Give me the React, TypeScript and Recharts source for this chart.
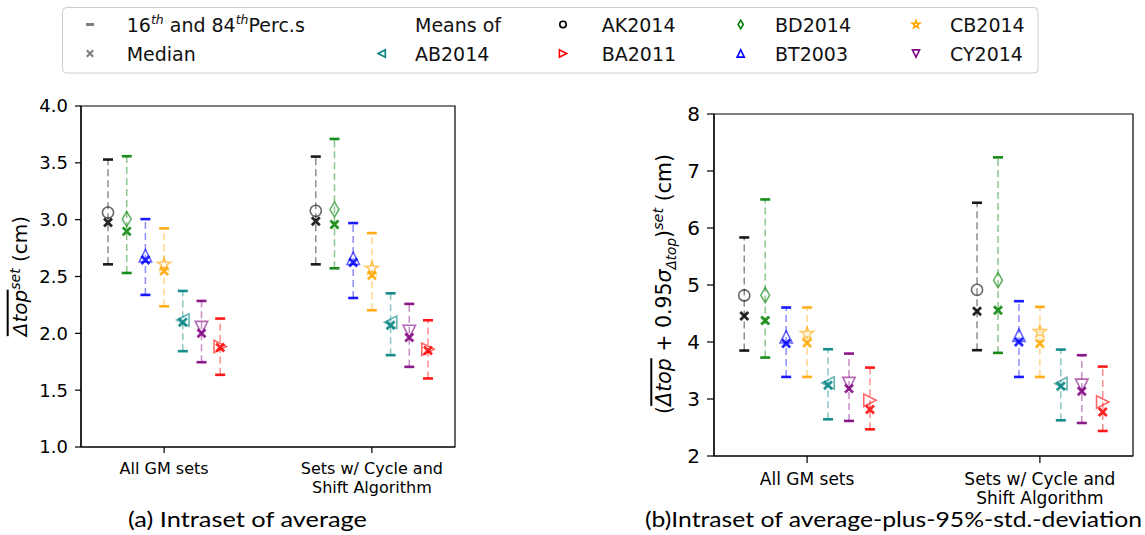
import React from 'react';
import { ComposedChart, Scatter, XAxis, YAxis, ErrorBar, ReferenceArea } from 'recharts';

// ---------- data ----------
const categories = ['All GM sets', 'Sets w/ Cycle and\nShift Algorithm'];
const categoryIndex = [0, 1];
const seriesNames = ['AK2014', 'BD2014', 'BT2003', 'CB2014', 'AB2014', 'CY2014', 'BA2011'];
const seriesColors = ['#000000', '#008000', '#0000ff', '#ffa500', '#008080', '#800080', '#ff0000'];
const seriesMarkers = ['circle', 'thinDiamond', 'triUp', 'star', 'triLeft', 'triDown', 'triRight'];
const seriesSlots = [-3, -2, -1, 0, 1, 2, 3];
const groupStep = 0.09;

// (a) Intraset of average  [All GM sets, Sets w/ Cycle and Shift]
const avgMean = [[3.063, 3.078], [3.005, 3.09], [2.683, 2.66], [2.607, 2.572], [2.118, 2.098], [2.051, 2.016], [1.884, 1.86]];
const avgMedian = [[2.976, 2.987], [2.897, 2.958], [2.645, 2.624], [2.548, 2.51], [2.098, 2.071], [2.001, 1.963], [1.875, 1.849]];
const avgP16 = [[2.607, 2.607], [2.531, 2.572], [2.338, 2.311], [2.238, 2.203], [1.843, 1.808], [1.746, 1.705], [1.635, 1.603]];
const avgP84 = [[3.529, 3.555], [3.558, 3.71], [3.005, 2.97], [2.923, 2.882], [2.373, 2.352], [2.285, 2.259], [2.13, 2.115]];

// (b) Intraset of average-plus-95%-std.-deviation
const stdMean = [[4.816, 4.915], [4.821, 5.085], [4.09, 4.12], [4.148, 4.18], [3.28, 3.27], [3.27, 3.24], [2.977, 2.948]];
const stdMedian = [[4.458, 4.54], [4.377, 4.558], [3.973, 4.002], [3.984, 3.973], [3.241, 3.223], [3.182, 3.136], [2.814, 2.773]];
const stdP16 = [[3.85, 3.856], [3.727, 3.809], [3.387, 3.387], [3.387, 3.387], [2.644, 2.626], [2.615, 2.579], [2.468, 2.439]];
const stdP84 = [[5.834, 6.443], [6.501, 7.239], [4.605, 4.716], [4.605, 4.616], [3.873, 3.867], [3.797, 3.768], [3.551, 3.569]];

const avgTicks = [1.0, 1.5, 2.0, 2.5, 3.0, 3.5, 4.0];
const stdTicks = [2, 3, 4, 5, 6, 7, 8];

const legendRow1 = ['16th and 84thPerc.s', 'Means of', 'AK2014', 'BD2014', 'CB2014'];
const legendRow2 = ['Median', 'AB2014', 'BA2011', 'BT2003', 'CY2014'];

const FONT = '"DejaVu Sans", sans-serif';

function buildSeries(mean: number[][], median: number[][], p16: number[][], p84: number[][]) {
  return seriesNames.map((name, s) =>
    categoryIndex.map((c, i) => ({
      x: c + seriesSlots[s] * groupStep,
      mean: mean[s][i],
      median: median[s][i],
      lo: p16[s][i],
      hi: p84[s][i],
      err: [median[s][i] - p16[s][i], p84[s][i] - median[s][i]],
    }))
  );
}

const avgSeries = buildSeries(avgMean, avgMedian, avgP16, avgP84);
const stdSeries = buildSeries(stdMean, stdMedian, stdP16, stdP84);

// ---------- marker shapes ----------
function starPath(cx: number, cy: number, r: number) {
  const ri = r * 0.382;
  let d = '';
  for (let k = 0; k < 10; k++) {
    const rr = k % 2 === 0 ? r : ri;
    const a = -Math.PI / 2 + (k * Math.PI) / 5;
    d += (k === 0 ? 'M' : 'L') + (cx + rr * Math.cos(a)).toFixed(2) + ',' + (cy + rr * Math.sin(a)).toFixed(2);
  }
  return d + 'Z';
}

function markerPath(kind: string, cx: number, cy: number, r: number): string {
  switch (kind) {
    case 'triUp':
      return `M${cx},${cy - r}L${cx + r},${cy + r}L${cx - r},${cy + r}Z`;
    case 'triDown':
      return `M${cx},${cy + r}L${cx + r},${cy - r}L${cx - r},${cy - r}Z`;
    case 'triLeft':
      return `M${cx - r},${cy}L${cx + r},${cy - r}L${cx + r},${cy + r}Z`;
    case 'triRight':
      return `M${cx + r},${cy}L${cx - r},${cy - r}L${cx - r},${cy + r}Z`;
    case 'thinDiamond':
      return `M${cx},${cy - r * 1.2}L${cx + r * 0.72},${cy}L${cx},${cy + r * 1.2}L${cx - r * 0.72},${cy}Z`;
    case 'star':
      return starPath(cx, cy, r * 1.1);
    default:
      return '';
  }
}

function Marker({ kind, cx, cy, r, color, opacity, sw }: any) {
  if (cx == null || cy == null) return null;
  if (kind === 'circle') {
    return <circle cx={cx} cy={cy} r={r * 0.9} fill="none" stroke={color} strokeOpacity={opacity} strokeWidth={sw} />;
  }
  return (
    <path d={markerPath(kind, cx, cy, r)} fill="none" stroke={color} strokeOpacity={opacity} strokeWidth={sw} strokeLinejoin="miter" />
  );
}

function XMark({ cx, cy, h, color, opacity, sw }: any) {
  if (cx == null || cy == null) return null;
  return (
    <path
      d={`M${cx - h},${cy - h}L${cx + h},${cy + h}M${cx - h},${cy + h}L${cx + h},${cy - h}`}
      stroke={color}
      strokeOpacity={opacity}
      strokeWidth={sw}
      fill="none"
    />
  );
}

function Cap({ cx, cy, h, color, opacity, sw }: any) {
  if (cx == null || cy == null) return null;
  return <line x1={cx - h} x2={cx + h} y1={cy} y2={cy} stroke={color} strokeOpacity={opacity} strokeWidth={sw} />;
}

const nothing = () => <g />;

// ---------- axis ticks ----------
function CatTick(props: any) {
  const { x, y, payload, fontSize, first, lineH } = props;
  const lines = categories[payload.value].split('\n');
  return (
    <text x={x} y={y} textAnchor="middle" fontSize={fontSize} fill="#000" fontFamily={FONT}>
      {lines.map((l: string, i: number) => (
        <tspan key={i} x={x} dy={i === 0 ? first : lineH}>
          {l}
        </tspan>
      ))}
    </text>
  );
}

function Panel(props: any) {
  const { width, height, margin, yAxisWidth, xAxisHeight, yDomain, yTicks, yFmt, series, fontSize, yFontSize, tickSize, tickMargin, first, lineH } = props;
  return (
    <ComposedChart width={width} height={height} margin={margin}>
      <XAxis
        type="number"
        dataKey="x"
        domain={[-0.4, 1.4]}
        ticks={categoryIndex}
        interval={0}
        allowDataOverflow
        height={xAxisHeight}
        stroke="#000"
        tickSize={tickSize}
        tickLine={{ stroke: '#000', strokeWidth: 1.2 }}
        axisLine={{ stroke: '#000', strokeWidth: 1.2 }}
        tick={<CatTick fontSize={fontSize} first={first} lineH={lineH} />}
      />
      <YAxis
        type="number"
        domain={yDomain}
        ticks={yTicks}
        allowDataOverflow
        width={yAxisWidth}
        tickFormatter={yFmt}
        tickSize={tickSize}
        tickMargin={tickMargin}
        stroke="#000"
        tickLine={{ stroke: '#000', strokeWidth: 1.2 }}
        axisLine={{ stroke: '#000', strokeWidth: 1.2 }}
        tick={{ fill: '#000', fontSize: yFontSize, fontFamily: FONT }}
      />
      <ReferenceArea x1={-0.4} x2={1.4} y1={yDomain[0]} y2={yDomain[1]} fill="none" stroke="#000" strokeWidth={1.2} fillOpacity={0} />
      {series.map((data: any[], s: number) => (
        <Scatter key={'e' + s} data={data} dataKey="median" shape={nothing} isAnimationActive={false}>
          <ErrorBar
            dataKey="err"
            direction="y"
            width={0}
            stroke={seriesColors[s]}
            strokeOpacity={0.45}
            strokeWidth={1.5}
            strokeDasharray="7 4"
            isAnimationActive={false}
          />
        </Scatter>
      ))}
      {series.map((data: any[], s: number) => (
        <Scatter
          key={'l' + s}
          data={data}
          dataKey="lo"
          isAnimationActive={false}
          shape={(p: any) => <Cap cx={p.cx} cy={p.cy} h={5} color={seriesColors[s]} opacity={0.9} sw={2.6} />}
        />
      ))}
      {series.map((data: any[], s: number) => (
        <Scatter
          key={'h' + s}
          data={data}
          dataKey="hi"
          isAnimationActive={false}
          shape={(p: any) => <Cap cx={p.cx} cy={p.cy} h={5} color={seriesColors[s]} opacity={0.9} sw={2.6} />}
        />
      ))}
      {series.map((data: any[], s: number) => (
        <Scatter
          key={'m' + s}
          data={data}
          dataKey="mean"
          isAnimationActive={false}
          shape={(p: any) => <Marker kind={seriesMarkers[s]} cx={p.cx} cy={p.cy} r={6.2} color={seriesColors[s]} opacity={0.6} sw={1.6} />}
        />
      ))}
      {series.map((data: any[], s: number) => (
        <Scatter
          key={'x' + s}
          data={data}
          dataKey="median"
          isAnimationActive={false}
          shape={(p: any) => <XMark cx={p.cx} cy={p.cy} h={4} color={seriesColors[s]} opacity={0.85} sw={2.8} />}
        />
      ))}
    </ComposedChart>
  );
}

// ---------- legend ----------
const legendCols = [90, 381.7, 563, 740.7, 916];
const legendTextX = [126.7, 415, 601.7, 775, 950];

function Legend() {
  const y1 = 24.5;
  const y2 = 53.5;
  const gray = '#000';
  const row1Series = [-1, -1, 0, 1, 3];
  const row2Series = [-2, 4, 6, 2, 5];
  const renderM = (sIdx: number, cx: number, cy: number) => {
    if (sIdx < 0) return null;
    return <Marker kind={seriesMarkers[sIdx]} cx={cx} cy={cy} r={3.6} color={seriesColors[sIdx]} opacity={1} sw={1.6} />;
  };
  return (
    <svg width={1145} height={80} style={{ position: 'absolute', left: 0, top: 0 }}>
      <rect x={62.5} y={7.5} width={975.5} height={65.5} rx={4} ry={4} fill="#fff" stroke="#cccccc" strokeWidth={1} />
      <Cap cx={legendCols[0]} cy={y1} h={4} color={gray} opacity={0.5} sw={3} />
      <XMark cx={legendCols[0]} cy={y2} h={3.2} color={gray} opacity={0.5} sw={2.2} />
      {row1Series.map((s, i) => (i >= 2 ? <g key={'r1m' + i}>{renderM(s, legendCols[i], y1)}</g> : null))}
      {row2Series.map((s, i) => (i >= 1 ? <g key={'r2m' + i}>{renderM(s, legendCols[i], y2)}</g> : null))}
      <text x={legendTextX[0]} y={31.5} fontFamily={FONT} fontSize={19} fill="#111">
        16<tspan fontSize={12.5} fontStyle="italic" dy={-7.5}>th</tspan>
        <tspan dy={7.5}> and 84</tspan>
        <tspan fontSize={12.5} fontStyle="italic" dy={-7.5}>th</tspan>
        <tspan dy={7.5}>Perc.s</tspan>
      </text>
      {legendRow1.slice(1).map((t, i) => (
        <text key={'t1' + i} x={legendTextX[i + 1]} y={31.5} fontFamily={FONT} fontSize={19} fill="#111">
          {t}
        </text>
      ))}
      {legendRow2.map((t, i) => (
        <text key={'t2' + i} x={legendTextX[i]} y={61} fontFamily={FONT} fontSize={19} fill="#111">
          {t}
        </text>
      ))}
    </svg>
  );
}

export default function App() {
  return (
    <div style={{ position: 'absolute', left: 0, top: 0, width: 1145, height: 535, background: '#fff', overflow: 'hidden' }}>
      <Legend />
      <div style={{ position: 'absolute', left: 0, top: 90 }}>
        <Panel
          width={470}
          height={420}
          margin={{ top: 16, right: 15, left: 0, bottom: 3 }}
          yAxisWidth={81}
          xAxisHeight={60}
          yDomain={[1, 4]}
          yTicks={avgTicks}
          yFmt={(v: number) => v.toFixed(1)}
          series={avgSeries}
          fontSize={16}
          yFontSize={18}
          tickSize={6}
          tickMargin={7}
          first={18.7}
          lineH={19.3}
        />
      </div>
      <div style={{ position: 'absolute', left: 640, top: 90 }}>
        <Panel
          width={505}
          height={420}
          margin={{ top: 24, right: 12, left: 0, bottom: 3 }}
          yAxisWidth={74}
          xAxisHeight={51}
          yDomain={[2, 8]}
          yTicks={stdTicks}
          yFmt={(v: number) => String(v)}
          series={stdSeries}
          fontSize={17}
          yFontSize={20}
          tickSize={7}
          tickMargin={7}
          first={19.6}
          lineH={19}
        />
      </div>
      {/* y-axis titles */}
      <div
        style={{
          position: 'absolute',
          left: 19,
          top: 276,
          transform: 'translate(-50%, -50%) rotate(-90deg)',
          whiteSpace: 'nowrap',
          fontFamily: FONT,
          fontSize: 20,
          color: '#000',
          lineHeight: 1,
        }}
      >
        <span style={{ textDecoration: 'overline', fontStyle: 'italic' }}>Δtop</span>
        <sup style={{ fontStyle: 'italic', fontSize: 14 }}>set</sup> (cm)
      </div>
      <div
        style={{
          position: 'absolute',
          left: 665,
          top: 284,
          transform: 'translate(-50%, -50%) rotate(-90deg)',
          whiteSpace: 'nowrap',
          fontFamily: FONT,
          fontSize: 20.5,
          color: '#000',
          lineHeight: 1,
        }}
      >
        (<span style={{ textDecoration: 'overline', fontStyle: 'italic' }}>Δtop</span> + 0.95
        <span style={{ fontStyle: 'italic' }}>σ</span>
        <sub style={{ fontStyle: 'italic', fontSize: 13.5 }}>Δtop</sub>)
        <sup style={{ fontStyle: 'italic', fontSize: 14.5 }}>set</sup> (cm)
      </div>
      {/* captions */}
      <svg width={1145} height={40} style={{ position: 'absolute', left: 0, top: 500 }}>
        <text x={128} y={27} fontFamily="Lato, 'Open Sans', sans-serif" fontSize={21} fill="#000" textLength={239} lengthAdjust="spacingAndGlyphs">
          (a) Intraset of average
        </text>
        <text x={645} y={27} fontFamily="Lato, 'Open Sans', sans-serif" fontSize={21} fill="#000" textLength={497} lengthAdjust="spacingAndGlyphs">
          (b)Intraset of average-plus-95%-std.-deviation
        </text>
      </svg>
    </div>
  );
}
